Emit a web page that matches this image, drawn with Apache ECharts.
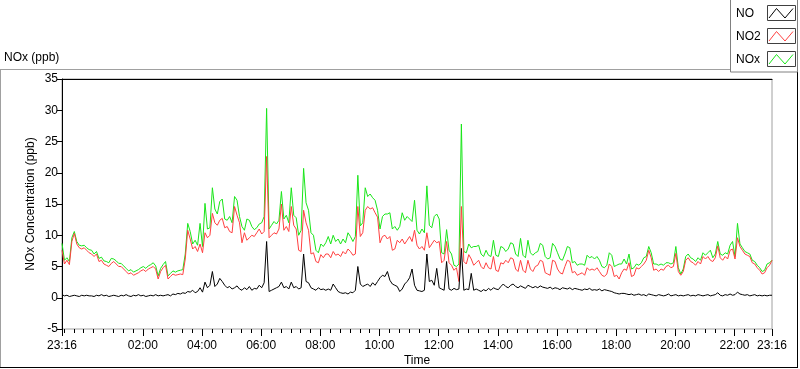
<!DOCTYPE html>
<html>
<head>
<meta charset="utf-8">
<script src="https://cdn.jsdelivr.net/npm/echarts@6/dist/echarts.min.js"></script>
<style>html,body{margin:0;padding:0;background:#fff}#c{width:800px;height:369px}</style>
</head>
<body>
<div id="c"></div>
<script>
// Start of record: 23:16, samples every 5 minutes for 24 h
const startClock = '23:16';
const sampleStepMin = 5;

const noValues = [
0.5,0.3,0.4,0.2,0.3,0.4,0.3,0.2,0.4,0.3,0.4,0.3,
0.3,0.2,0.4,0.3,0.5,0.3,0.4,0.2,0.3,0.4,0.3,0.2,
0.4,0.3,0.5,0.3,0.2,0.4,0.3,0.5,0.3,0.4,0.2,0.3,
0.4,0.3,0.5,0.3,0.4,0.3,0.4,0.5,0.3,0.6,0.5,0.7,
0.6,0.8,0.7,1.0,0.9,1.2,0.8,1.0,1.6,0.9,2.5,1.6,
2.0,4.2,1.8,2.2,3.1,2.6,2.0,1.6,1.8,1.4,1.6,1.9,
1.4,1.2,1.6,1.3,1.8,1.2,1.5,1.4,2.0,1.6,2.4,9.0,
1.0,1.2,1.4,1.6,1.8,2.5,1.6,1.8,1.4,2.5,1.6,1.8,
1.4,1.6,7.0,2.6,2.4,1.6,1.4,1.2,1.6,1.3,1.4,1.2,
1.4,1.2,2.2,1.6,1.0,0.8,0.7,0.8,0.6,0.9,0.8,1.2,
5.0,2.2,1.8,2.0,2.2,1.8,2.4,2.0,2.6,3.2,3.6,3.4,
4.2,2.8,2.2,2.0,1.8,1.0,1.4,2.2,2.6,3.2,4.6,2.0,
1.2,1.1,1.0,1.2,7.0,2.6,2.8,2.0,4.7,1.6,1.4,1.2,
5.8,1.4,1.2,1.5,1.3,1.4,7.9,1.2,1.4,1.3,3.9,1.2,
1.4,1.2,1.0,1.3,1.1,1.5,1.2,1.6,1.4,1.3,1.8,2.2,
1.8,1.6,2.0,2.2,1.8,1.6,1.9,1.7,1.5,2.0,1.8,1.6,
1.8,1.6,1.9,1.7,1.6,1.5,1.7,1.4,1.6,1.5,1.3,1.6,
1.5,1.4,1.6,1.3,1.5,1.4,1.3,1.2,1.4,1.3,1.5,1.2,
1.3,1.2,1.4,1.1,1.3,1.2,1.1,1.0,0.8,0.7,0.6,0.7,
0.7,0.6,0.5,0.6,0.4,0.5,0.6,0.4,0.5,0.3,0.6,0.5,
0.4,0.3,0.5,0.4,0.3,0.4,0.6,0.3,0.4,0.5,0.3,0.4,
0.3,0.4,0.5,0.3,0.4,0.3,0.5,0.4,0.3,0.4,0.5,0.3,
0.4,0.5,0.8,0.4,0.3,0.5,0.4,0.6,0.4,0.5,0.9,0.6,
0.5,0.4,0.5,0.3,0.4,0.5,0.3,0.4,0.3,0.4,0.3,0.4,
0.4];

const no2Values = [
7.6,5.4,6.0,5.3,9.0,10.3,8.6,8.0,7.8,8.0,7.6,7.2,
7.0,6.6,7.0,5.8,6.0,5.4,5.2,5.0,5.5,5.8,5.4,5.0,
5.0,4.6,4.2,3.8,4.0,3.6,3.8,4.0,4.3,4.5,4.2,4.6,
4.8,5.0,4.6,3.0,4.2,4.8,5.2,3.0,3.4,3.8,3.6,3.7,
3.8,3.7,6.2,10.8,9.4,7.8,8.2,7.4,8.6,7.2,10.4,9.6,
10.0,13.5,12.0,11.6,12.4,12.7,11.2,11.4,10.6,10.4,14.6,13.2,
12.0,8.8,10.4,9.2,9.6,10.0,9.8,10.4,11.0,10.2,10.6,22.6,
9.6,10.0,10.4,10.2,11.0,15.0,10.8,11.4,10.6,14.6,11.6,11.0,
7.6,7.4,14.0,12.0,10.8,7.0,7.2,5.8,5.6,6.9,6.4,7.0,
7.0,6.4,7.4,6.8,7.0,6.6,7.4,7.0,7.8,7.4,6.8,7.0,
14.6,9.8,10.4,14.0,14.6,14.2,14.4,13.6,12.9,8.8,9.8,10.0,
9.4,9.8,7.6,7.8,9.2,8.8,9.4,8.6,9.2,9.8,9.0,10.8,
8.4,7.8,8.2,7.6,10.4,8.0,8.6,9.2,8.8,9.0,5.6,6.0,
9.0,5.6,5.2,4.4,4.8,2.6,14.6,5.8,5.4,6.9,6.2,5.2,
5.6,6.0,5.0,4.6,5.6,4.8,4.6,6.6,4.4,4.2,5.6,5.4,
6.0,5.6,6.4,6.2,4.6,4.2,6.0,4.4,4.0,6.0,4.6,4.2,
5.0,5.2,6.0,5.8,4.0,3.8,3.6,6.0,5.8,4.6,4.0,3.8,
5.0,6.0,5.8,4.0,4.2,3.6,3.8,4.0,3.6,4.8,4.4,4.6,
4.4,4.8,4.2,3.6,3.4,3.8,5.4,5.0,3.4,3.6,3.0,4.0,
4.6,4.4,5.6,3.4,3.6,4.8,4.6,5.0,5.4,6.0,7.6,6.4,
4.4,4.6,4.2,4.6,4.4,5.0,5.2,4.8,5.0,7.1,4.2,3.6,
4.2,6.0,6.4,5.8,5.6,5.2,5.8,5.4,6.6,6.2,6.6,6.0,
5.8,6.4,8.3,6.4,6.0,6.6,6.2,7.6,7.8,6.2,9.6,8.2,
7.6,7.0,6.8,6.6,5.6,5.4,4.8,4.4,3.8,4.0,4.8,5.2,
6.0];

const noxValues = [
8.7,6.0,6.4,5.8,9.6,10.6,9.0,8.4,8.3,8.4,8.0,7.7,
7.6,7.0,7.4,6.3,6.5,5.9,5.8,5.6,6.3,6.2,5.9,5.5,
5.5,5.1,4.7,4.3,4.5,4.1,4.3,4.5,4.8,5.0,4.7,5.1,
5.3,5.6,5.1,3.5,4.7,5.3,5.8,3.5,3.9,4.3,4.1,4.3,
4.4,4.5,7.0,11.9,10.6,8.6,9.2,8.4,11.9,8.2,15.1,11.0,
11.2,17.6,14.2,13.4,15.4,15.8,12.6,12.4,13.0,12.0,16.2,15.6,
13.0,11.4,10.8,12.6,12.4,11.4,10.9,11.2,11.8,12.0,13.0,30.3,
11.0,11.6,12.2,11.8,12.4,17.0,12.6,13.2,12.0,17.6,13.2,12.8,
10.0,10.8,20.7,15.2,14.0,10.4,10.0,7.6,7.2,8.6,8.2,8.8,
9.8,8.6,10.0,9.0,9.4,8.6,9.4,8.8,10.4,9.8,9.0,9.8,
19.6,11.5,12.0,17.6,16.2,16.6,16.0,15.6,14.0,11.0,13.0,13.4,
13.4,13.6,11.0,11.4,10.8,11.4,13.6,12.4,13.0,12.6,12.2,15.6,
10.8,10.2,11.0,10.4,17.9,11.6,11.2,13.0,13.4,12.6,7.2,7.0,
10.9,7.6,7.0,5.2,5.0,5.4,27.8,7.4,7.2,8.6,8.0,8.2,
8.2,8.4,7.0,6.6,7.6,6.8,6.6,9.2,6.8,6.6,8.2,8.0,
7.4,7.8,8.8,8.6,7.0,6.6,9.5,6.8,6.4,9.2,7.2,6.8,
7.2,7.4,8.7,8.4,6.6,6.2,6.4,8.7,8.2,7.2,6.2,6.0,
7.0,8.2,8.0,5.6,5.8,5.2,5.4,5.4,5.2,6.8,6.4,6.6,
6.2,6.6,6.0,5.0,4.8,5.2,7.2,6.8,5.0,5.2,5.4,5.4,
6.2,5.4,7.0,4.6,4.8,5.4,5.2,5.6,6.4,6.6,8.2,7.2,
5.4,5.4,5.2,5.4,5.2,5.6,5.6,5.4,5.6,8.2,4.8,3.8,
4.6,6.6,7.0,6.4,6.2,5.8,6.4,6.0,7.2,6.8,7.2,7.6,
6.4,7.0,9.0,7.0,6.8,7.2,7.0,8.4,9.0,6.6,11.9,8.6,
8.0,7.4,7.2,7.0,6.0,5.8,5.2,4.8,4.2,4.4,5.4,5.6,
6.0];

const xTickLabels = ['23:16','02:00','04:00','06:00','08:00','10:00','12:00','14:00','16:00','18:00','20:00','22:00','23:16'];
const yMin = -5, yMax = 35, yStep = 5;
const seriesNames = ['NO', 'NO2', 'NOx'];
const seriesColors = ['#000000', '#ff4040', '#19e619'];

// helpers
const startMin = 23 * 60 + 16;
const totalMin = 24 * 60;
function clockToOffset(lbl, i) {
  if (i === xTickLabels.length - 1) return totalMin;
  const p = lbl.split(':');
  const m = (+p[0]) * 60 + (+p[1]);
  return ((m - startMin) % totalMin + totalMin) % totalMin;
}
const majorPos = xTickLabels.map(clockToOffset);
const minorPos = [];
for (let m = 4; m < totalMin; m += 20) minorPos.push(m);
function offsetToClock(v) {
  if (Math.abs(v - totalMin) < 1e-6) return xTickLabels[xTickLabels.length - 1];
  const t = (startMin + v) % totalMin;
  const h = Math.floor(t / 60), mm = Math.round(t % 60);
  return String(h).padStart(2, '0') + ':' + String(mm).padStart(2, '0');
}
function pairs(arr) { return arr.map((v, i) => [i * sampleStepMin, v]); }

const FONT = 'Liberation Sans';
const chart = echarts.init(document.getElementById('c'), null, { renderer: 'canvas' });

function swatch(y, color) {
  return [
    { type: 'rect', shape: { x: 767.5, y: y + 0.5, width: 28, height: 15 }, style: { fill: '#fff', stroke: '#404040', lineWidth: 1 }, z: 10 },
    { type: 'polyline', shape: { points: [[769, y + 13], [776.5, y + 3.5], [785, y + 13], [793, y + 3.5]] }, style: { stroke: color, lineWidth: 1, fill: null }, z: 11 }
  ];
}

const option = {
  animation: false,
  backgroundColor: '#ffffff',
  grid: { left: 62, right: 28, top: 79, bottom: 40, show: true, borderColor: '#a0a0a0', borderWidth: 1, backgroundColor: '#ffffff' },
  xAxis: [
    {
      type: 'value', min: 0, max: totalMin, position: 'bottom',
      axisLine: { show: false, onZero: false },
      splitLine: { show: false },
      axisTick: { show: true, customValues: majorPos, length: 7, lineStyle: { color: '#000', width: 1 } },
      axisLabel: { show: true, customValues: majorPos, formatter: offsetToClock, color: '#000', fontFamily: FONT, fontSize: 12, margin: 11, hideOverlap: false }
    },
    {
      type: 'value', min: 0, max: totalMin, position: 'bottom',
      axisLine: { show: false, onZero: false }, splitLine: { show: false },
      axisTick: { show: true, customValues: minorPos, length: 4, lineStyle: { color: '#000', width: 1 } },
      axisLabel: { show: false }
    },
    {
      type: 'value', min: 0, max: totalMin, position: 'top',
      axisLine: { show: true, onZero: false, lineStyle: { color: '#000', width: 1 } },
      axisTick: { show: false }, axisLabel: { show: false }, splitLine: { show: false }
    }
  ],
  yAxis: {
    type: 'value', min: yMin, max: yMax, interval: yStep,
    axisLine: { show: true, onZero: false, lineStyle: { color: '#000', width: 1 } },
    axisTick: { show: true, length: 5, lineStyle: { color: '#000' } },
    axisLabel: { color: '#000', fontFamily: FONT, fontSize: 12, margin: 4 },
    splitLine: { show: false }
  },
  series: [
    { name: seriesNames[2], type: 'line', data: pairs(noxValues), showSymbol: false, symbol: 'none', lineStyle: { color: seriesColors[2], width: 1 }, itemStyle: { color: seriesColors[2] }, z: 2 },
    { name: seriesNames[1], type: 'line', data: pairs(no2Values), showSymbol: false, symbol: 'none', lineStyle: { color: seriesColors[1], width: 1 }, itemStyle: { color: seriesColors[1] }, z: 3 },
    { name: seriesNames[0], type: 'line', data: pairs(noValues), showSymbol: false, symbol: 'none', lineStyle: { color: seriesColors[0], width: 1 }, itemStyle: { color: seriesColors[0] }, z: 4 }
  ],
  graphic: [
    // outer frame
    { type: 'line', shape: { x1: 0, y1: 69.5, x2: 730, y2: 69.5 }, style: { stroke: '#a0a0a0', lineWidth: 1 } },
    { type: 'line', shape: { x1: 0.5, y1: 69, x2: 0.5, y2: 368 }, style: { stroke: '#a0a0a0', lineWidth: 1 } },
    { type: 'line', shape: { x1: 0, y1: 367.5, x2: 798, y2: 367.5 }, style: { stroke: '#000', lineWidth: 1 } },
    { type: 'line', shape: { x1: 797.5, y1: 0, x2: 797.5, y2: 368 }, style: { stroke: '#000', lineWidth: 1 } },
    // legend box
    { type: 'rect', shape: { x: 730.5, y: -1, width: 67, height: 73 }, style: { fill: '#fff', stroke: '#808080', lineWidth: 1 }, z: 9 },
    { type: 'text', x: 736, y: 14, style: { text: seriesNames[0], fill: '#000', font: '12px ' + FONT, textVerticalAlign: 'middle' }, z: 11 },
    { type: 'text', x: 736, y: 37, style: { text: seriesNames[1], fill: '#000', font: '12px ' + FONT, textVerticalAlign: 'middle' }, z: 11 },
    { type: 'text', x: 736, y: 60, style: { text: seriesNames[2], fill: '#000', font: '12px ' + FONT, textVerticalAlign: 'middle' }, z: 11 },
    ...swatch(5, seriesColors[0]),
    ...swatch(28, seriesColors[1]),
    ...swatch(51, seriesColors[2]),
    // titles
    { type: 'text', x: 4, y: 58, style: { text: 'NOx (ppb)', fill: '#000', font: '12px ' + FONT, textVerticalAlign: 'middle' } },
    { type: 'text', x: 31, y: 204, rotation: Math.PI / 2, style: { text: 'NOx Concentration (ppb)', fill: '#000', font: '12px ' + FONT, textAlign: 'center', textVerticalAlign: 'middle' } },
    { type: 'text', x: 417, y: 361, style: { text: 'Time', fill: '#000', font: '12px ' + FONT, textAlign: 'center', textVerticalAlign: 'middle' } }
  ]
};
chart.setOption(option);
</script>
</body>
</html>
